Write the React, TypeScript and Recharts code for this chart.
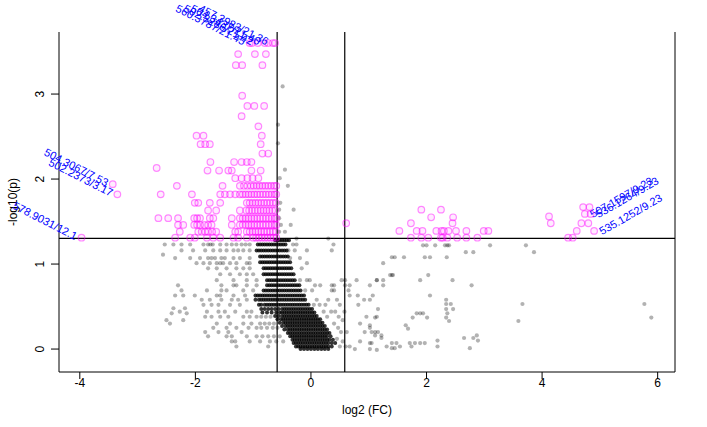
import React from 'react';
import { ScatterChart, Scatter, XAxis, YAxis, ReferenceLine } from 'recharts';

// ---- axes ----
const xTicks = [-4, -2, 0, 2, 4, 6];
const yTicks = [0, 1, 2, 3];
const xDomain: [number, number] = [-4.36, 6.3];
const yDomain: [number, number] = [-0.27, 3.73];
const fcCut = 0.585; // log2(1.5)
const pCut = 1.301; // -log10(0.05)

// ---- significant, down-regulated (magenta, left): [y, xs] ----
const sigDownRows: [number, number[]][] = [
  [3.6, [-1.02, -0.74, -0.62]],
  [3.47, [-1.26, -0.97, -0.78]],
  [3.34, [-1.3, -1.19, -0.84]],
  [2.98, [-1.19]],
  [2.86, [-1.1, -0.98, -0.81]],
  [2.74, [-1.2]],
  [2.62, [-0.91]],
  [2.51, [-1.98, -1.86, -0.85]],
  [2.41, [-1.91, -1.83, -1.75, -0.87]],
  [2.3, [-0.84, -0.74]],
  [2.2, [-1.74, -1.33, -1.2, -1.11, -1.03]],
  [2.13, [-2.67]],
  [2.1, [-1.79, -1.59, -1.43, -1.37, -1.03, -0.87]],
  [2.01, [-1.31, -1.2, -1.1, -1.01, -0.91]],
  [1.92, [-2.32, -1.53, -1.23, -1.16, -1.1, -1.04, -0.99, -0.94, -0.89, -0.84, -0.79, -0.74, -0.69, -0.64, -0.6]],
  [1.82, [-2.6, -2.06, -1.57, -1.49, -1.4, -1.31, -1.23, -1.18, -1.13, -1.08, -1.03, -0.98, -0.93, -0.88, -0.83, -0.78, -0.73, -0.68, -0.63, -0.6]],
  [1.72, [-2.01, -1.95, -1.75, -1.57, -1.11, -1.06, -1.01, -0.96, -0.91, -0.86, -0.81, -0.76, -0.71, -0.66, -0.61]],
  [1.63, [-1.78, -1.64, -1.23, -1.12, -1.07, -1.02, -0.97, -0.92, -0.87, -0.82, -0.77, -0.72, -0.67, -0.62]],
  [1.54, [-2.64, -2.47, -2.3, -2.02, -1.97, -1.92, -1.75, -1.69, -1.37, -1.23, -1.18, -1.13, -1.08, -1.03, -0.98, -0.93, -0.88, -0.83, -0.78, -0.73, -0.68, -0.63, -0.6]],
  [1.46, [-2.3, -2.21, -2.02, -1.97, -1.92, -1.84, -1.78, -1.72, -1.37, -1.23, -1.18, -1.13, -1.08, -1.03, -0.98, -0.93, -0.88, -0.83, -0.78, -0.73, -0.68, -0.63, -0.6]],
  [1.38, [-2.27, -1.95, -1.89, -1.83, -1.78, -1.71, -1.64, -1.31, -1.26, -1.11, -1.06, -1.01, -0.96, -0.91, -0.86, -0.81, -0.76, -0.71, -0.66, -0.61]],
  [1.31, [-2.35, -2.09, -2.01, -1.8, -1.69, -1.57, -1.34, -1.26, -1.11, -1.0, -0.95, -0.9, -0.85, -0.8, -0.75, -0.7, -0.65, -0.6]],
];

// ---- significant, up-regulated (magenta, right): [y, xs] ----
const sigUpRows: [number, number[]][] = [
  [1.67, [4.71, 4.82]],
  [1.64, [1.91, 2.25]],
  [1.56, [4.12]],
  [1.55, [2.08, 2.46]],
  [1.48, [0.61, 1.73, 2.45, 4.15, 4.68, 4.8]],
  [1.39, [1.53, 1.83, 1.93, 2.17, 2.26, 2.3, 2.38, 2.51, 2.69, 2.99, 3.07, 4.6]],
  [1.31, [1.73, 1.91, 2.03, 2.25, 2.28, 2.36, 2.53, 2.69, 2.88, 4.45, 4.53]],
];

// ---- labelled significant features ----
const labelX = [-1.06, -0.92, -0.8, -0.66, -3.43, -3.35, -3.97, 4.74, 4.84, 4.9];
const labelY = [3.6, 3.6, 3.6, 3.6, 1.94, 1.82, 1.31, 1.59, 1.59, 1.39];
const labelText = [
  '560.3787/21.45',
  '502.3286/21.42',
  '504.3437/21.40',
  '457.3983/21.36',
  '504.3067/7.53',
  '502.2373/3.17',
  '578.9031/12.1',
  '507.1597/9.23',
  '536.1264/9.23',
  '535.1252/9.23',
];

// ---- not significant, scattered (grey): [y, xs] ----
const nsSparseRows: [number, number[]][] = [
  [3.09, [-0.49]],
  [2.64, [-0.57]],
  [2.42, [-0.57]],
  [2.11, [-0.45]],
  [2.01, [-0.54]],
  [1.92, [-0.4]],
  [1.72, [-0.53]],
  [1.64, [-0.55, -0.3]],
  [1.54, [-0.55]],
  [1.46, [-0.52, -0.35]],
  [1.38, [-0.55, -0.45]],
  [1.3, [-0.25, 0.3]],
  [1.23, [-2.53, -2.38, -2.24, -2.09, -1.86, -1.78, -1.74, -1.7, -1.57, -1.46, -1.37, -1.29, -1.2, -1.13, -1.06, -0.31, -0.25, 0.39]],
  [1.16, [-2.24, -2.04, -1.83, -1.69, -1.57, -1.46, -1.34, -1.26, -1.17, -1.06, -0.39, -0.28, -0.07, 0.36]],
  [1.11, [-2.56]],
  [1.07, [-2.35, -2.09, -1.92, -1.78, -1.72, -1.66, -1.55, -1.49, -1.34, -1.23, -1.06, -0.36, -0.19]],
  [1.01, [-1.98, -1.86, -1.75, -1.63, -1.57, -1.52, -1.4, -1.29, -1.11, -1.06, -0.07]],
  [0.95, [-1.78, -1.63, -1.46, -1.29, -1.17, -1.06, -0.16]],
  [0.88, [-1.57, -1.4, -1.23, -1.11, -1.0]],
  [0.81, [-1.63, -1.34, -1.11, -0.94, -0.19, -0.07, -0.02, 0.53, 0.59, 0.79]],
  [0.75, [-2.3, -1.55, -1.34, -1.29, -1.11, -0.94, 0.07, 0.16, 0.36, 0.4, 0.59, 0.67]],
  [0.69, [-2.24, -1.8, -1.55, -1.46, -1.17, -1.0, -0.1, 0.02, 0.36, 0.4, 0.65]],
  [0.63, [-2.35, -2.21, -2.01, -1.63, -1.57, -1.34, -1.14, 0.67, 0.81]],
  [0.58, [-1.89, -1.75, -1.55, -1.37, -1.26, -1.11, 0.1, 0.3, 0.45, 0.92]],
  [0.52, [-1.86, -1.72, -1.6, -1.4, -1.23, 0.05, 0.15, 0.25, 0.5, 0.82]],
  [0.48, [-2.38, -2.18]],
  [0.44, [-2.27, -1.8, -1.6, -1.49, -1.31, -1.11, -1.03, 0.22, 0.35, 0.42, 0.58]],
  [0.42, [-2.41, -2.15]],
  [0.38, [-1.83, -1.72, -1.57, -1.43, -1.17, -1.06, -0.94, -0.86, -0.78, -0.7, 0.28, 0.48, 0.96]],
  [0.34, [-2.5, -2.21, 0.55]],
  [0.3, [-2.44, -1.63, -1.4, -1.17, -1.03, -0.88, -0.8, -0.72, -0.64, 0.4, 0.85]],
  [0.25, [-1.69, -1.46, -1.29, -1.08, -0.94, -0.86, -0.76, -0.66, -0.58, 0.47, 1.02]],
  [0.2, [-1.83, -1.6, -1.43, -1.2, 0.52, 0.62, 0.93]],
  [0.15, [-1.78, -1.46, -1.37, -1.11, -0.94, -0.84, -0.74, -0.64, -0.54]],
  [0.12, [0.45]],
  [0.09, [-1.37, -1.31, -1.06, -0.88, -0.71, -0.6, -0.48, 0.55, 0.85]],
  [0.03, [-1.29, -0.74, 0.5, 0.6, 0.67]],
  [0.0, [0.76]],
];

// ---- not significant, right-hand scatter (grey): [x, y] ----
const nsRightPoints: [number, number][] = [
  [1.14, 0.81], [1.02, 0.75], [1.02, 0.58], [1.14, 0.38], [1.02, 0.28], [1.11, 0.16],
  [1.02, 0.07], [1.02, 0.0], [1.14, -0.01],
  [1.94, 1.22], [2.0, 1.22], [2.15, 1.22], [2.32, 1.22], [2.36, 1.22], [2.39, 1.22], [3.1, 1.22], [3.72, 1.22],
  [2.68, 1.14], [2.81, 1.14], [3.86, 1.14],
  [1.4, 1.08], [1.45, 1.08], [1.61, 1.08], [1.97, 1.08], [2.06, 1.08], [2.35, 1.08],
  [1.25, 1.01],
  [1.37, 0.87], [1.4, 0.87], [1.42, 0.87], [2.03, 0.87],
  [1.14, 0.81], [1.25, 0.81], [1.89, 0.81], [2.45, 0.81],
  [1.25, 0.75], [2.78, 0.75],
  [1.07, 0.63], [2.06, 0.63],
  [2.34, 0.58],
  [2.34, 0.53], [2.42, 0.53], [3.66, 0.53], [5.77, 0.53],
  [1.16, 0.47], [2.34, 0.47], [2.46, 0.47],
  [1.83, 0.42], [1.89, 0.42], [1.94, 0.42], [2.36, 0.42],
  [1.11, 0.37], [1.76, 0.37], [2.01, 0.37], [2.34, 0.37], [5.89, 0.37],
  [2.39, 0.33], [3.59, 0.33],
  [1.64, 0.28],
  [1.68, 0.24],
  [1.05, 0.2], [1.11, 0.2], [1.16, 0.2],
  [1.22, 0.16], [2.87, 0.16],
  [1.22, 0.13], [2.65, 0.13], [2.81, 0.13],
  [2.19, 0.1], [2.89, 0.1],
  [1.05, 0.07], [1.4, 0.07], [1.48, 0.07], [1.71, 0.07], [1.8, 0.07], [1.89, 0.07], [1.97, 0.07],
  [1.31, 0.03], [1.54, 0.03], [1.74, 0.03], [2.19, 0.03],
  [1.4, 0.01], [1.45, 0.01], [2.75, 0.01],
];

// ---- not significant, dense core near FC = 1 (dark): [y, xs] ----
const nsCoreRows: [number, number[]][] = [
  [1.28, [-0.62, -0.58, -0.54, -0.5, -0.46, -0.42, -0.38]],
  [1.23, [-0.92, -0.88, -0.84, -0.8, -0.76, -0.72, -0.68, -0.64, -0.6, -0.56, -0.52, -0.48, -0.44]],
  [1.16, [-0.94, -0.9, -0.86, -0.82, -0.78, -0.74, -0.7, -0.66, -0.62, -0.58, -0.54, -0.5, -0.46, -0.42]],
  [1.09, [-0.88, -0.84, -0.8, -0.76, -0.72, -0.68, -0.64, -0.6, -0.56, -0.52, -0.48, -0.44, -0.4]],
  [1.02, [-0.88, -0.84, -0.8, -0.76, -0.72, -0.68, -0.64, -0.6, -0.56, -0.52, -0.48, -0.44, -0.4, -0.36]],
  [0.95, [-0.82, -0.78, -0.74, -0.7, -0.66, -0.62, -0.58, -0.54, -0.5, -0.46, -0.42, -0.38, -0.34]],
  [0.88, [-0.82, -0.78, -0.74, -0.7, -0.66, -0.62, -0.58, -0.54, -0.5, -0.46, -0.42, -0.38, -0.34, -0.3]],
  [0.81, [-0.76, -0.72, -0.68, -0.64, -0.6, -0.56, -0.52, -0.48, -0.44, -0.4, -0.36, -0.32, -0.28]],
  [0.75, [-0.76, -0.72, -0.68, -0.64, -0.6, -0.56, -0.52, -0.48, -0.44, -0.4, -0.36, -0.32, -0.28, -0.24, -0.2]],
  [0.69, [-0.82, -0.78, -0.74, -0.7, -0.66, -0.62, -0.58, -0.54, -0.5, -0.46, -0.42, -0.38, -0.34, -0.3, -0.26, -0.22, -0.18]],
  [0.63, [-0.96, -0.92, -0.88, -0.84, -0.8, -0.76, -0.72, -0.68, -0.64, -0.6, -0.56, -0.52, -0.48, -0.44, -0.4, -0.36, -0.32, -0.28, -0.24, -0.2, -0.16, -0.12]],
  [0.58, [-0.96, -0.9, -0.86, -0.82, -0.78, -0.74, -0.7, -0.66, -0.62, -0.58, -0.54, -0.5, -0.46, -0.42, -0.38, -0.34, -0.3, -0.26, -0.22, -0.18, -0.14, -0.1]],
  [0.52, [-0.9, -0.86, -0.8, -0.76, -0.72, -0.68, -0.64, -0.6, -0.56, -0.52, -0.48, -0.44, -0.4, -0.36, -0.32, -0.28, -0.24, -0.2, -0.16, -0.12, -0.08, -0.04]],
  [0.47, [-0.86, -0.8, -0.74, -0.68, -0.62, -0.56, -0.5, -0.46, -0.42, -0.38, -0.34, -0.3, -0.26, -0.22, -0.18, -0.14, -0.1, -0.06, -0.02, 0.02]],
  [0.43, [-0.84, -0.76, -0.68, -0.6, -0.54, -0.5, -0.46, -0.42, -0.38, -0.34, -0.3, -0.26, -0.22, -0.18, -0.14, -0.1, -0.06, -0.02, 0.02, 0.06]],
  [0.39, [-0.62, -0.56, -0.5, -0.46, -0.42, -0.38, -0.34, -0.3, -0.26, -0.22, -0.18, -0.14, -0.1, -0.06, -0.02, 0.02, 0.06, 0.1]],
  [0.35, [-0.58, -0.52, -0.48, -0.44, -0.4, -0.36, -0.32, -0.28, -0.24, -0.2, -0.16, -0.12, -0.08, -0.04, 0.0, 0.04, 0.08, 0.12, 0.16]],
  [0.31, [-0.54, -0.48, -0.44, -0.4, -0.36, -0.32, -0.28, -0.24, -0.2, -0.16, -0.12, -0.08, -0.04, 0.0, 0.04, 0.08, 0.12, 0.16, 0.2]],
  [0.27, [-0.5, -0.44, -0.4, -0.36, -0.32, -0.28, -0.24, -0.2, -0.16, -0.12, -0.08, -0.04, 0.0, 0.04, 0.08, 0.12, 0.16, 0.2, 0.24]],
  [0.23, [-0.46, -0.4, -0.36, -0.32, -0.28, -0.24, -0.2, -0.16, -0.12, -0.08, -0.04, 0.0, 0.04, 0.08, 0.12, 0.16, 0.2, 0.24, 0.28]],
  [0.19, [-0.4, -0.36, -0.32, -0.28, -0.24, -0.2, -0.16, -0.12, -0.08, -0.04, 0.0, 0.04, 0.08, 0.12, 0.16, 0.2, 0.24, 0.28, 0.32]],
  [0.15, [-0.36, -0.32, -0.28, -0.24, -0.2, -0.16, -0.12, -0.08, -0.04, 0.0, 0.04, 0.08, 0.12, 0.16, 0.2, 0.24, 0.28, 0.34]],
  [0.11, [-0.32, -0.28, -0.24, -0.2, -0.16, -0.12, -0.08, -0.04, 0.0, 0.04, 0.08, 0.12, 0.16, 0.2, 0.24, 0.28, 0.32, 0.38]],
  [0.07, [-0.3, -0.26, -0.22, -0.18, -0.14, -0.1, -0.06, -0.02, 0.02, 0.06, 0.1, 0.14, 0.18, 0.22, 0.26, 0.3, 0.36, 0.42]],
  [0.03, [-0.26, -0.22, -0.18, -0.14, -0.1, -0.06, -0.02, 0.02, 0.06, 0.1, 0.14, 0.18, 0.22, 0.26, 0.3, 0.36]],
  [0.0, [-0.18, -0.12, -0.06, 0.0, 0.06, 0.12, 0.18, 0.24, 0.3]],
];

type Pt = { x: number; y: number; label?: string };
const fromRows = (rows: [number, number[]][]): Pt[] =>
  rows.flatMap(([y, xs]) => xs.map((x) => ({ x, y })));

const sigDown = fromRows(sigDownRows);
const sigUp = fromRows(sigUpRows);
const nsSparse = [...fromRows(nsSparseRows), ...nsRightPoints.map(([x, y]) => ({ x, y }))];
const nsCore = fromRows(nsCoreRows);
const labelled: Pt[] = labelX.map((x, i) => ({ x, y: labelY[i], label: labelText[i] }));

const FONT = '"Liberation Sans", Arial, Helvetica, sans-serif';
const MAGENTA = '#ff00ff';

const Ring = (p: any) => (
  <circle
    cx={p.cx}
    cy={p.cy}
    r={3.3}
    fill={MAGENTA}
    fillOpacity={0.08}
    stroke={MAGENTA}
    strokeOpacity={0.45}
    strokeWidth={1.2}
  />
);

const makeDot = (opacity: number, r: number) => (p: any) => (
  <circle cx={p.cx} cy={p.cy} r={r} fill="#000" fillOpacity={opacity} />
);
const SparseDot = makeDot(0.3, 2.1);
const CoreDot = makeDot(0.8, 2.0);

const LabelledPoint = (p: any) => {
  const { cx, cy, payload } = p;
  const left = payload.x < 0;
  const tx = left ? cx - 5 : cx + 6;
  const ty = left ? cy - 1 : cy + 1;
  return (
    <g>
      <Ring cx={cx} cy={cy} />
      <text
        x={tx}
        y={ty}
        transform={`rotate(${left ? 27 : -30} ${tx} ${ty})`}
        textAnchor={left ? 'end' : 'start'}
        dominantBaseline="central"
        fontSize={11}
        fontFamily={FONT}
        fill="#0000ff"
      >
        {payload.label}
      </text>
    </g>
  );
};

const XTick = (p: any) => (
  <text x={p.x} y={p.y + 2} textAnchor="middle" dominantBaseline="central" fontSize={12} fontFamily={FONT} fill="#000">
    {p.payload.value}
  </text>
);

const makeYTick = (dx: number) => (p: any) => {
  const x = p.x + dx;
  return (
    <text
      x={x}
      y={p.y}
      transform={`rotate(-90 ${x} ${p.y})`}
      textAnchor="middle"
      dominantBaseline="central"
      fontSize={12}
      fontFamily={FONT}
      fill="#000"
    >
      {p.payload.value}
    </text>
  );
};
const YTickLeft = makeYTick(-9);
const YTickRight = makeYTick(6);

export default function App() {
  return (
    <div style={{ position: 'absolute', left: 0, top: 0, width: 707, height: 427, background: '#fff' }}>
      <ScatterChart width={707} height={427} margin={{ top: 32, right: 0, bottom: 0, left: 0 }}>
        <XAxis
          xAxisId="bottom"
          dataKey="x"
          type="number"
          domain={xDomain}
          ticks={xTicks}
          height={55}
          tickSize={7}
          stroke="#000"
          tick={<XTick />}
          label={{
            content: (lp: any) => {
              const vb = lp.viewBox;
              return (
                <text x={vb.x + vb.width / 2} y={410} textAnchor="middle" dominantBaseline="central" fontSize={12} fontFamily={FONT} fill="#000">
                  log2 (FC)
                </text>
              );
            },
          }}
        />
        <XAxis xAxisId="top" orientation="top" type="number" domain={xDomain} height={0} tick={false} tickLine={false} stroke="#000" />
        <YAxis
          yAxisId="left"
          dataKey="y"
          type="number"
          domain={yDomain}
          ticks={yTicks}
          width={59}
          tickSize={8}
          stroke="#000"
          tick={<YTickLeft />}
          label={{
            content: (lp: any) => {
              const vb = lp.viewBox;
              const cy = vb.y + vb.height / 2;
              return (
                <text x={13} y={cy} transform={`rotate(-90 13 ${cy})`} textAnchor="middle" dominantBaseline="central" fontSize={12} fontFamily={FONT} fill="#000">
                  -log10(p)
                </text>
              );
            },
          }}
        />
        <YAxis
          yAxisId="right"
          orientation="right"
          type="number"
          domain={yDomain}
          ticks={yTicks}
          width={32}
          tickSize={7}
          stroke="#000"
          tick={<YTickRight />}
        />
        <Scatter xAxisId="bottom" yAxisId="left" data={nsSparse} shape={SparseDot} isAnimationActive={false} />
        <Scatter xAxisId="bottom" yAxisId="left" data={nsCore} shape={CoreDot} isAnimationActive={false} />
        <Scatter xAxisId="bottom" yAxisId="left" data={sigDown} shape={Ring} isAnimationActive={false} />
        <Scatter xAxisId="bottom" yAxisId="left" data={sigUp} shape={Ring} isAnimationActive={false} />
        <ReferenceLine xAxisId="bottom" yAxisId="left" x={-fcCut} stroke="#000" strokeWidth={1.2} />
        <ReferenceLine xAxisId="bottom" yAxisId="left" x={fcCut} stroke="#000" strokeWidth={1.2} />
        <ReferenceLine xAxisId="bottom" yAxisId="left" y={pCut} stroke="#000" strokeWidth={1.2} />
        <Scatter xAxisId="bottom" yAxisId="left" data={labelled} shape={LabelledPoint} isAnimationActive={false} />
      </ScatterChart>
    </div>
  );
}
